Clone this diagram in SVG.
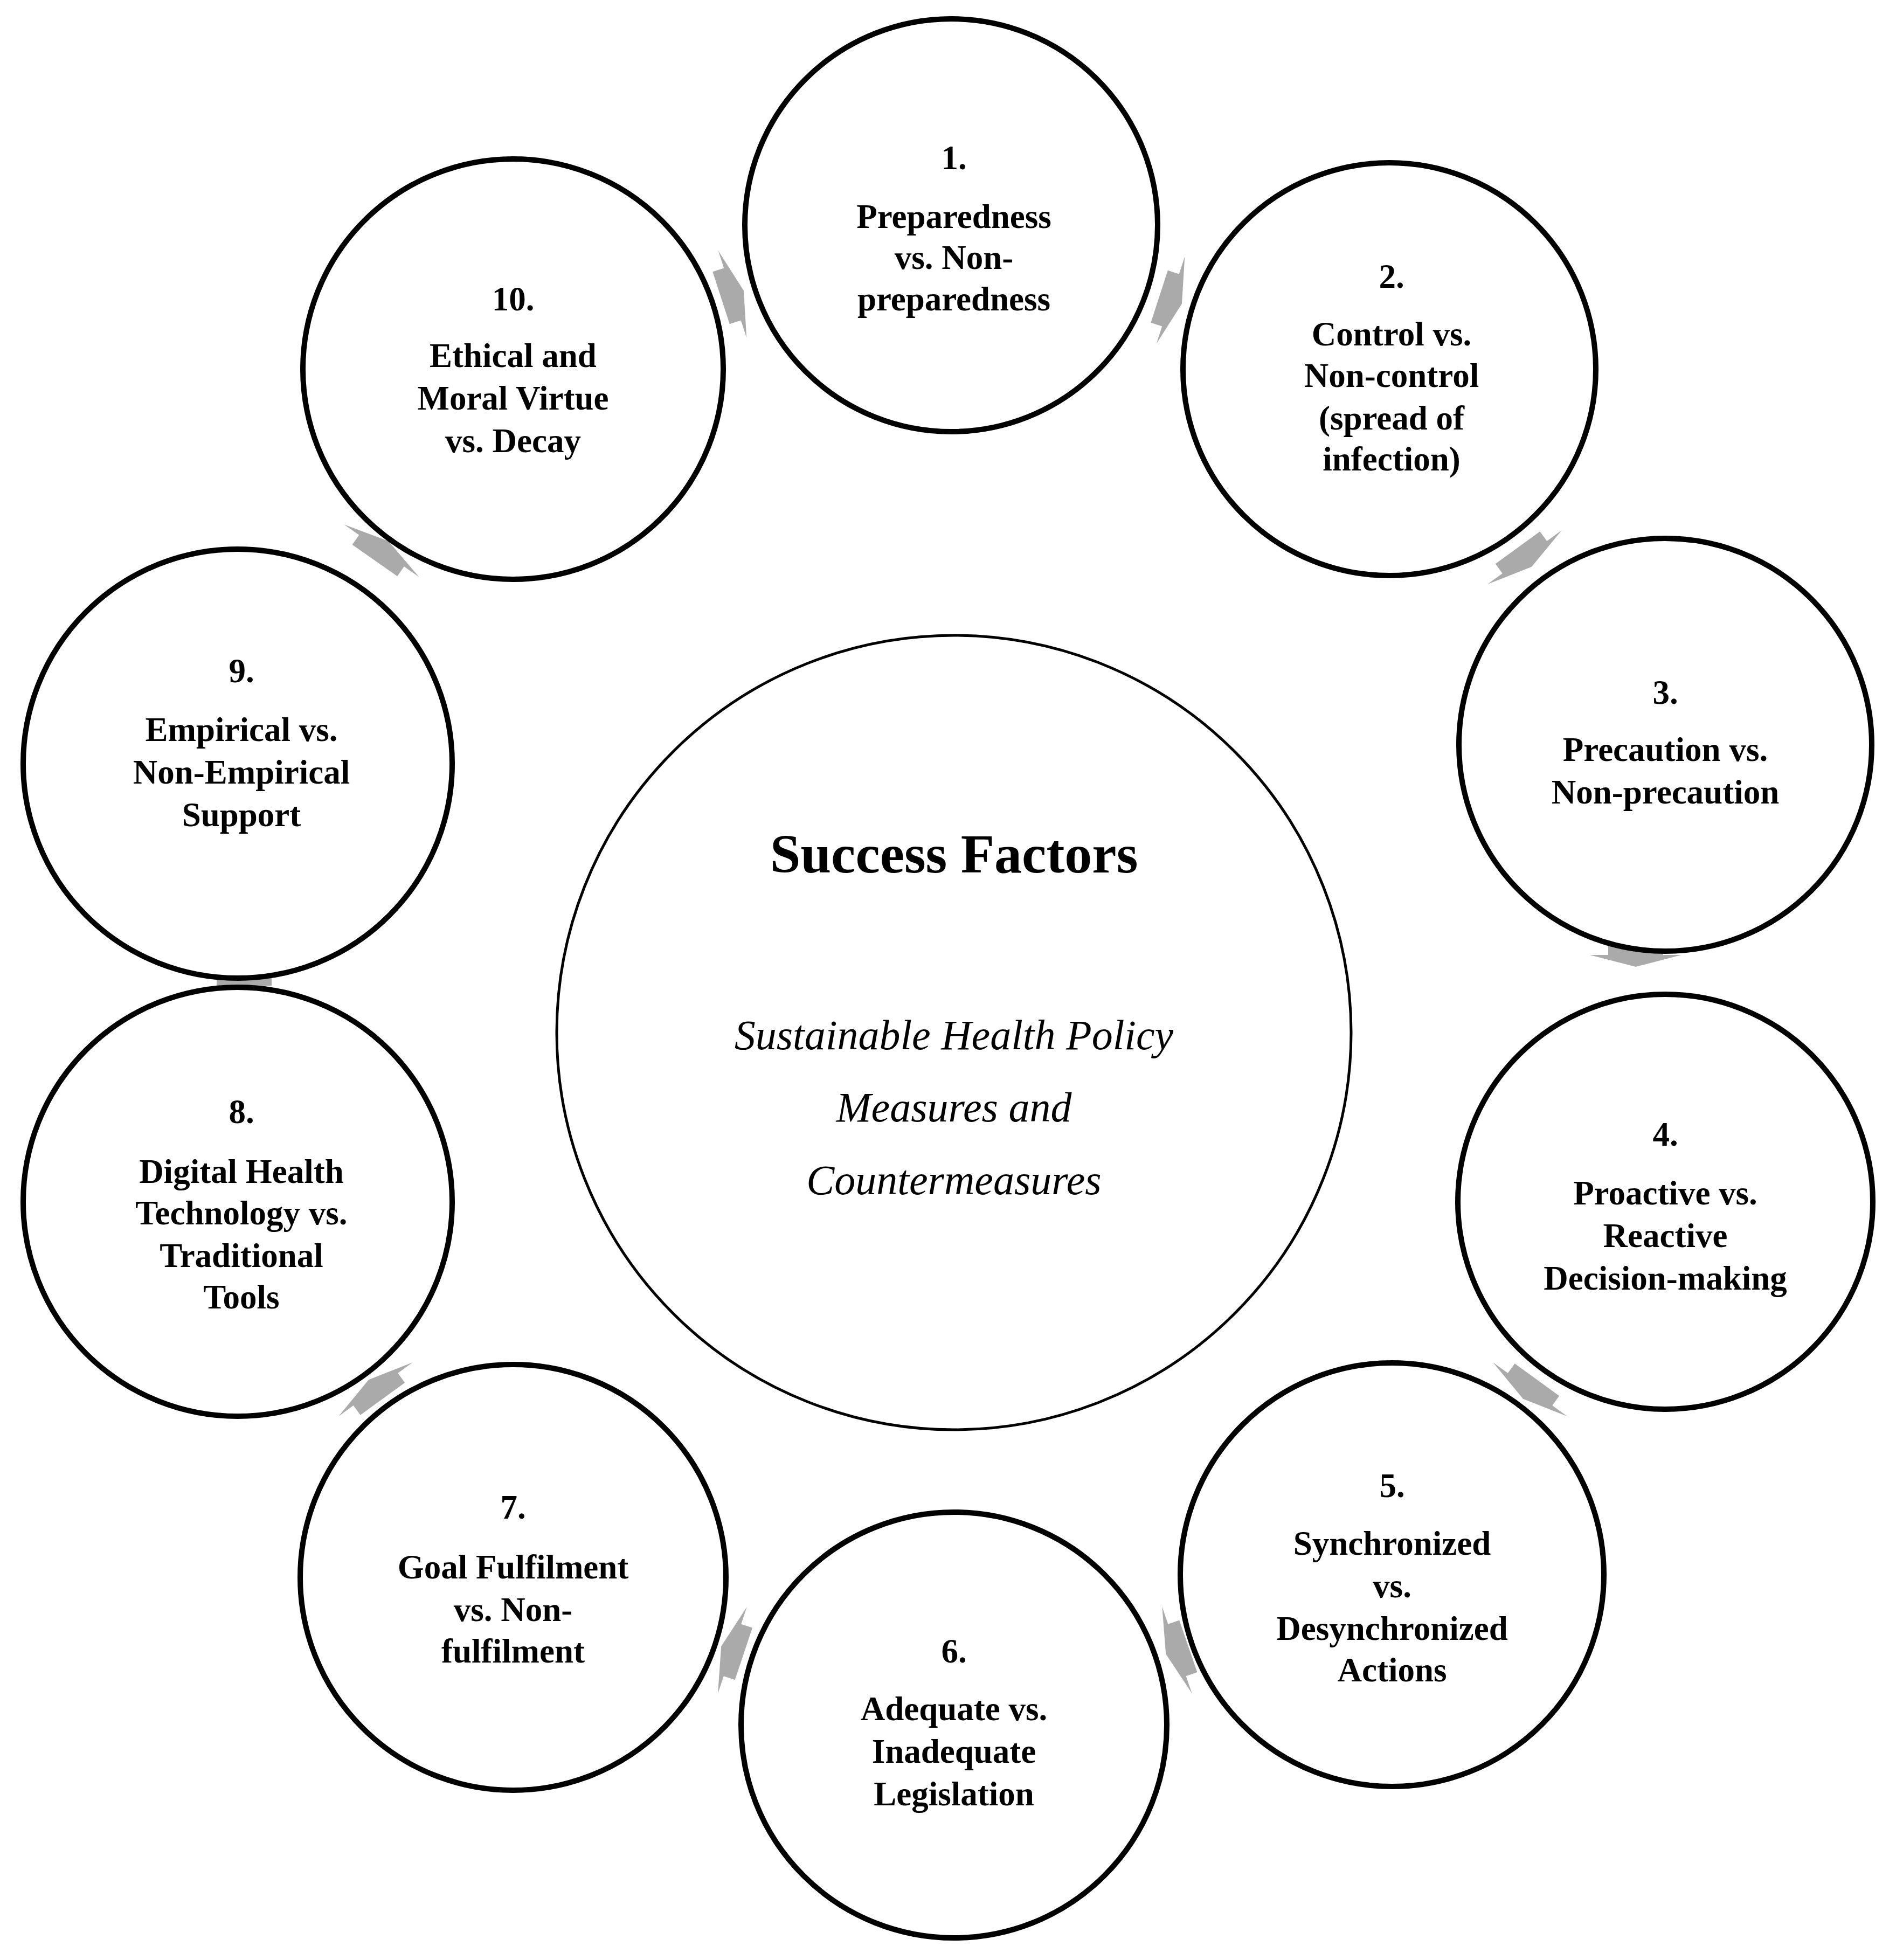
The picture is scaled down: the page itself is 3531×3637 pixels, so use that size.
<svg xmlns="http://www.w3.org/2000/svg" width="3531" height="3637" viewBox="0 0 3531 3637">
<style>
.n{fill:#fff;stroke:#000;stroke-width:10}
.c{fill:#fff;stroke:#000;stroke-width:5}
.t{font-family:"Liberation Serif",serif;font-weight:bold;font-size:63px;text-anchor:middle;fill:#000}
.h{font-family:"Liberation Serif",serif;font-weight:bold;font-size:102px;text-anchor:middle;fill:#000}
.i{font-family:"Liberation Serif",serif;font-style:italic;font-size:78px;text-anchor:middle;fill:#000}
.a{fill:#aaa}
</style>
<defs><path id="ar" d="M-22,-51 L0,-51 L0,-85 L22,0 L0,85 L0,51 L-22,51 Z"/></defs>
<rect width="3531" height="3637" fill="#fff"/>
<g id="connectors">
<use href="#ar" class="a" transform="translate(1359,546) rotate(-18)"/>
<use href="#ar" class="a" transform="translate(2172,557) rotate(18)"/>
<use href="#ar" class="a" transform="translate(2829,1034) rotate(54)"/>
<use href="#ar" class="a" transform="translate(3035,1772) rotate(90)"/>
<use href="#ar" class="a" transform="translate(2839,2578) rotate(126)"/>
<use href="#ar" class="a" transform="translate(2184,3062) rotate(161)"/>
<use href="#ar" class="a" transform="translate(1359,3062) rotate(198.5)"/>
<use href="#ar" class="a" transform="translate(697,2578) rotate(234)"/>
<use href="#ar" class="a" transform="translate(453,1807) rotate(270)"/>
<use href="#ar" class="a" transform="translate(708,1022) rotate(-55)"/>
</g>
<g id="center"><circle class="c" cx="1770" cy="1916" r="737"/>
<text class="h" x="1770" y="1619">Success Factors</text>
<text class="i" x="1770" y="1947">Sustainable Health Policy</text>
<text class="i" x="1770" y="2081">Measures and</text>
<text class="i" x="1770" y="2216">Countermeasures</text></g>
<g id="n1"><circle class="n" cx="1765" cy="418" r="383"/>
<text class="t" x="1770" y="314">1.</text><text class="t" x="1770" y="423">Preparedness</text><text class="t" x="1770" y="499">vs. Non-</text><text class="t" x="1770" y="576">preparedness</text></g>
<g id="n2"><circle class="n" cx="2578" cy="685" r="383"/>
<text class="t" x="2582" y="534">2.</text><text class="t" x="2582" y="641">Control vs.</text><text class="t" x="2582" y="718">Non-control</text><text class="t" x="2582" y="797">(spread of</text><text class="t" x="2582" y="873">infection)</text></g>
<g id="n3"><circle class="n" cx="3090" cy="1382" r="383"/>
<text class="t" x="3090" y="1306">3.</text><text class="t" x="3090" y="1412">Precaution vs.</text><text class="t" x="3090" y="1491">Non-precaution</text></g>
<g id="n4"><circle class="n" cx="3090" cy="2230" r="385"/>
<text class="t" x="3090" y="2126">4.</text><text class="t" x="3090" y="2235">Proactive vs.</text><text class="t" x="3090" y="2314">Reactive</text><text class="t" x="3090" y="2393">Decision-making</text></g>
<g id="n5"><circle class="n" cx="2583" cy="2922" r="393"/>
<text class="t" x="2583" y="2778">5.</text><text class="t" x="2583" y="2885">Synchronized</text><text class="t" x="2583" y="2964">vs.</text><text class="t" x="2583" y="3043">Desynchronized</text><text class="t" x="2583" y="3120">Actions</text></g>
<g id="n6"><circle class="n" cx="1770" cy="3201" r="395"/>
<text class="t" x="1770" y="3085">6.</text><text class="t" x="1770" y="3192">Adequate vs.</text><text class="t" x="1770" y="3271">Inadequate</text><text class="t" x="1770" y="3350">Legislation</text></g>
<g id="n7"><circle class="n" cx="952" cy="2927" r="395"/>
<text class="t" x="952" y="2818">7.</text><text class="t" x="952" y="2929">Goal Fulfilment</text><text class="t" x="952" y="3008">vs. Non-</text><text class="t" x="952" y="3085">fulfilment</text></g>
<g id="n8"><circle class="n" cx="441" cy="2230" r="398"/>
<text class="t" x="448" y="2084">8.</text><text class="t" x="448" y="2195">Digital Health</text><text class="t" x="448" y="2272">Technology vs.</text><text class="t" x="448" y="2351">Traditional</text><text class="t" x="448" y="2428">Tools</text></g>
<g id="n9"><circle class="n" cx="441" cy="1417" r="398"/>
<text class="t" x="448" y="1266">9.</text><text class="t" x="448" y="1375">Empirical vs.</text><text class="t" x="448" y="1454">Non-Empirical</text><text class="t" x="448" y="1533">Support</text></g>
<g id="n10"><circle class="n" cx="952" cy="685" r="390"/>
<text class="t" x="952" y="576">10.</text><text class="t" x="952" y="681">Ethical and</text><text class="t" x="952" y="760">Moral Virtue</text><text class="t" x="952" y="839">vs. Decay</text></g>
</svg>
